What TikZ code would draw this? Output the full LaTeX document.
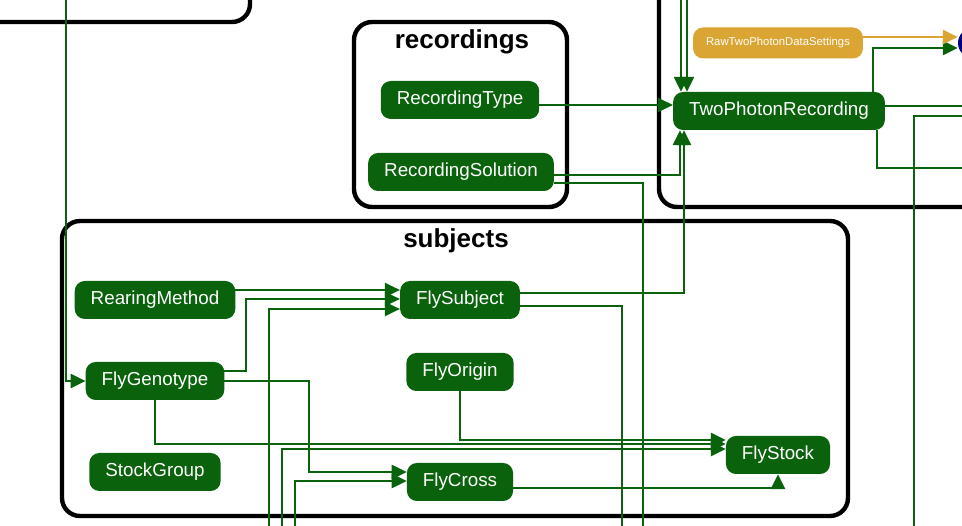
\documentclass[tikz,border=0pt]{standalone}
\usepackage{fontspec}
\setmainfont{Liberation Sans}
\usepackage{tikz}
\usepackage{xcolor}
\definecolor{leaf}{RGB}{10,98,12}
\definecolor{gold}{RGB}{218,165,50}
\definecolor{ink}{RGB}{0,0,128}
\usetikzlibrary{arrows.meta}
\tikzstyle{Arrow} = [
line width=2.6pt, leaf,
-{Triangle[length=15pt,width=14pt]}]
\tikzstyle{Line} = [line width=2.6pt, leaf]
\tikzstyle{Table} = [rounded corners=10pt, fill=leaf, text=white,
minimum height=38pt, inner xsep=16pt, font=\fontsize{18.8}{20}\selectfont]
\tikzstyle{Setting} = [Table, fill=gold, minimum height=31pt,
inner xsep=13pt, font=\fontsize{11.3}{13}\selectfont]
\tikzstyle{Group} = [line width=4.4pt, rounded corners=18pt]
\tikzstyle{Title} = [font=\fontsize{26}{28}\selectfont\bfseries, anchor=base]

\begin{document}
\begin{tikzpicture}[x=1pt, y=-1pt]
        \useasboundingbox (0,0) rectangle (962,526);
        \clip (0,0) rectangle (962,526);

        % clusters
        \draw[Group] (-40,-60) rectangle (250,22);
        \draw[Group] (354,22) rectangle (567,207);
        \draw[Group] (659,-60) rectangle (1020,207);
        \draw[Group] (62,221) rectangle (848,516);
        \node[Title] (r) at (462,49) {recordings};
        \node[Title] (s) at (456,248) {subjects};

        % recordings
        \node[Table] (1) at (460,100) {RecordingType};
        \node[Table] (2) at (461,172) {RecordingSolution};
        % two photon
        \node[Table] (3) at (779,111) {TwoPhotonRecording};
        \node[Setting] (4) at (778,43) {RawTwoPhotonDataSettings};
        \node[Table, fill=ink, minimum width=64pt, minimum height=30pt,
              rounded corners=15pt] (5) at (990,43) {};
        % subjects
        \node[Table] (6) at (155,300) {RearingMethod};
        \node[Table] (7) at (155,381) {FlyGenotype};
        \node[Table] (8) at (155,472) {StockGroup};
        \node[Table] (9) at (460,300) {FlySubject};
        \node[Table] (10) at (460,372) {FlyOrigin};
        \node[Table] (11) at (460,482) {FlyCross};
        \node[Table] (12) at (778,455) {FlyStock};

        % free ends
        \coordinate (a1) at (681,0);
        \coordinate (a2) at (687,0);
        \coordinate (a3) at (66,0);
        \coordinate (b1) at (643,526);
        \coordinate (b2) at (622,526);
        \coordinate (b3) at (269,526);
        \coordinate (b4) at (282,526);
        \coordinate (b5) at (295,526);
        \coordinate (b6) at (914,526);
        \coordinate (e1) at (962,106);
        \coordinate (e2) at (962,116);
        \coordinate (e3) at (962,168);

        \draw[Arrow] (1.east |- 0,105) -- (3.west |- 0,105);
        \draw[Arrow] (2.east |- 0,175) -| (3.south -| 680,0);
        \draw[Line] (2.east |- 0,183) -| (b1);
        \draw[Arrow] (9.east |- 0,293) -| (3.south -| 684,0);
        \draw[Arrow] (a1) -- (3.north -| a1);
        \draw[Arrow] (a2) -- (3.north -| a2);
        \draw[Arrow] (3.north -| 873,0) |- (5.west |- 0,48);
        \draw[Arrow, gold] (4.east |- 0,37) -- (5.west |- 0,37);
        \draw[Line] (3.east |- 0,106) -- (e1);
        \draw[Line] (3.south -| 877,0) |- (e3);
        \draw[Line] (e2) -| (b6);

        \draw[Arrow] (a3) |- (7.west);
        \draw[Arrow] (6.east |- 0,290) -- (9.west |- 0,290);
        \draw[Arrow] (7.east |- 0,371) -| (246,299) -- (9.west |- 0,299);
        \draw[Arrow] (b3) |- (9.west |- 0,309);
        \draw[Arrow] (7.east) -| (309,472) -- (11.west |- 0,472);
        \draw[Arrow] (b5) |- (11.west |- 0,481);
        \draw[Arrow] (10.south) |- (12.west |- 0,440);
        \draw[Arrow] (7.south) |- (12.west |- 0,444);
        \draw[Arrow] (b4) |- (12.west |- 0,449);
        \draw[Arrow] (11.east |- 0,488) -| (12.south);
        \draw[Line] (9.east |- 0,306) -| (b2);
    \end{tikzpicture}
\end{document}
